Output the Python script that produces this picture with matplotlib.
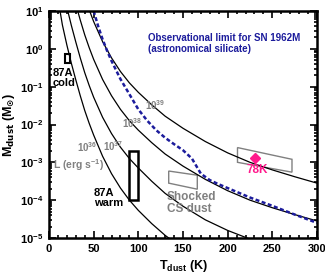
import matplotlib
matplotlib.use("Agg")
import matplotlib.pyplot as plt
from matplotlib.ticker import MultipleLocator, FixedLocator, FuncFormatter, NullFormatter
from matplotlib.patches import Polygon, Rectangle
import numpy as np

plt.rcParams['font.family'] = ['Liberation Sans', 'DejaVu Sans']
plt.rcParams['font.weight'] = 'bold'
plt.rcParams['mathtext.fontset'] = 'custom'
plt.rcParams['mathtext.rm'] = 'Liberation Sans:bold'
plt.rcParams['mathtext.bf'] = 'Liberation Sans:bold'
plt.rcParams['mathtext.it'] = 'Liberation Sans:bold'

# ---- data ----
T_lum = [12, 15, 20, 25, 30, 35, 40, 45, 50, 60, 70, 80, 90, 100, 115, 130,
         150, 175, 200, 225, 250, 275, 300]
logM_L36 = [1.05, 0.63, 0.1, -0.38, -0.82, -1.24, -1.63, -1.97, -2.28, -2.84, -3.3,
            -3.68, -4.0, -4.27, -4.62, -4.93, -5.28, -5.6, -5.9, -6.1, -6.3, -6.45, -6.6]
logM_L37 = [2.05, 1.63, 1.1, 0.62, 0.18, -0.24, -0.63, -0.97, -1.28, -1.81, -2.24,
            -2.6, -2.9, -3.15, -3.5, -3.82, -4.16, -4.52, -4.8, -5.03, -5.22, -5.4, -5.55]
logM_L38 = [3.05, 2.63, 2.1, 1.62, 1.18, 0.76, 0.37, 0.03, -0.28, -0.81, -1.24,
            -1.6, -1.9, -2.15, -2.48, -2.78, -3.1, -3.45, -3.75, -4.0, -4.2, -4.38, -4.55]
logM_L39 = [4.05, 3.63, 3.1, 2.62, 2.18, 1.76, 1.37, 1.03, 0.72, 0.19, -0.24,
            -0.6, -0.9, -1.15, -1.48, -1.78, -2.1, -2.45, -2.75, -3.0, -3.2, -3.38, -3.55]

T_obs = [50, 55, 60, 65, 70, 80, 90, 100, 110, 120, 130, 140, 150, 160, 165, 170,
         180, 190, 200, 225, 250, 275, 300]
logM_obs = [1.0, 0.6, 0.25, -0.05, -0.32, -0.8, -1.2, -1.6, -1.9, -2.15, -2.35, -2.52,
            -2.68, -2.9, -3.1, -3.3, -3.47, -3.58, -3.68, -3.93, -4.15, -4.38, -4.6]

cold_T = [18, 23]
cold_M = [0.42, 0.73]
warm_T = [90, 100]
warm_M = [1e-4, 2e-3]
shocked_T = [134, 166, 166, 134]
shocked_logM = [-3.23, -3.34, -3.71, -3.55]
k78_T = [211, 272, 272, 211]
k78_logM = [-2.61, -2.92, -3.26, -3.0]
point_T = 231
point_M = 10 ** -2.88

lum_labels = ['36', '37', '38', '39']
lum_label_T = [31, 60, 82, 107]
lum_label_logM = [-2.6, -2.58, -1.96, -1.48]

y_exponents = [-5, -4, -3, -2, -1, 0, 1]

# ---- figure ----
fig = plt.figure(figsize=(3.25, 2.73), dpi=100)
ax = fig.add_axes([49/325, 1 - 238/273, (317-49)/325, (238-11)/273])

for lm in (logM_L36, logM_L37, logM_L38, logM_L39):
    ax.plot(T_lum, [10 ** v for v in lm], color='black', lw=0.9)

ax.plot(T_obs, [10 ** v for v in logM_obs], color='#1c1c9c', lw=1.8,
        linestyle=(0, (1.6, 1.0)))

ax.add_patch(Rectangle((cold_T[0], cold_M[0]), cold_T[1]-cold_T[0], cold_M[1]-cold_M[0],
                       fill=False, ec='black', lw=1.5))
ax.add_patch(Rectangle((warm_T[0], warm_M[0]), warm_T[1]-warm_T[0], warm_M[1]-warm_M[0],
                       fill=False, ec='black', lw=1.8))
ax.add_patch(Polygon(list(zip(shocked_T, [10 ** v for v in shocked_logM])), closed=True,
                     fill=False, ec='#808080', lw=1.0))
ax.add_patch(Polygon(list(zip(k78_T, [10 ** v for v in k78_logM])), closed=True,
                     fill=False, ec='#808080', lw=1.0))
ax.plot([point_T], [point_M], marker='D', color='#ff1a8c', ms=5.5, mec='#ff1a8c')

ax.set_xlim(0, 300)
ax.set_yscale('log')
ax.set_ylim(1e-5, 10)

ax.xaxis.set_major_locator(MultipleLocator(50))
ax.xaxis.set_minor_locator(MultipleLocator(10))
ax.yaxis.set_major_locator(FixedLocator([10.0 ** e for e in y_exponents]))
ax.yaxis.set_minor_locator(FixedLocator([m * 10.0 ** e for e in y_exponents[:-1]
                                         for m in range(2, 10)]))
ax.yaxis.set_minor_formatter(NullFormatter())
ax.yaxis.set_major_formatter(FuncFormatter(lambda v, p: r'$10^{%d}$' % int(round(np.log10(v)))))
ax.tick_params(which='both', direction='in', top=True, right=True, width=1.2)
ax.tick_params(which='major', length=5, labelsize=8, pad=4)
ax.tick_params(which='minor', length=2.5)
for lab in ax.get_xticklabels():
    lab.set_fontweight('bold')
for s in ax.spines.values():
    s.set_linewidth(1.8)

ax.set_xlabel(r'T$_{\rm dust}$ (K)', fontsize=9, fontweight='bold', labelpad=3)
ax.set_ylabel(r'M$_{\bf dust}$ (M$_{\odot}$)', fontsize=9, fontweight='bold', labelpad=2,
              math_fontfamily='dejavusans')

ax.text(111, 10 ** 0.14, 'Observational limit for SN 1962M\n(astronomical silicate)',
        color='#1c1c9c', fontsize=7.0, fontweight='bold', va='center', ha='left',
        linespacing=1.05)

ax.text(4.5, 10 ** -0.78, '87A\ncold', fontsize=8, fontweight='bold', va='center', ha='left',
        linespacing=1.0)
ax.text(50, 10 ** -3.93, '87A\nwarm', fontsize=8, fontweight='bold', va='center', ha='left',
        linespacing=1.0)
ax.text(132, 10 ** -4.07, 'Shocked\nCS dust', fontsize=8.5, fontweight='bold', color='#808080',
        va='center', ha='left', linespacing=1.05)
ax.text(233, 10 ** -3.2, '78K', fontsize=8.5, color='#ff1a8c', va='center', ha='center')

for lab, t, lm in zip(lum_labels, lum_label_T, lum_label_logM):
    ax.text(t, 10 ** lm, r'10$^{%s}$' % lab, fontsize=7, color='#808080',
            fontweight='bold', va='center', ha='left')
ax.text(4.5, 10 ** -3.06, r'L (erg s$^{-1}$)', fontsize=7.5, color='#808080',
        fontweight='bold', va='center', ha='left')

fig.savefig('out.png', dpi=100)
